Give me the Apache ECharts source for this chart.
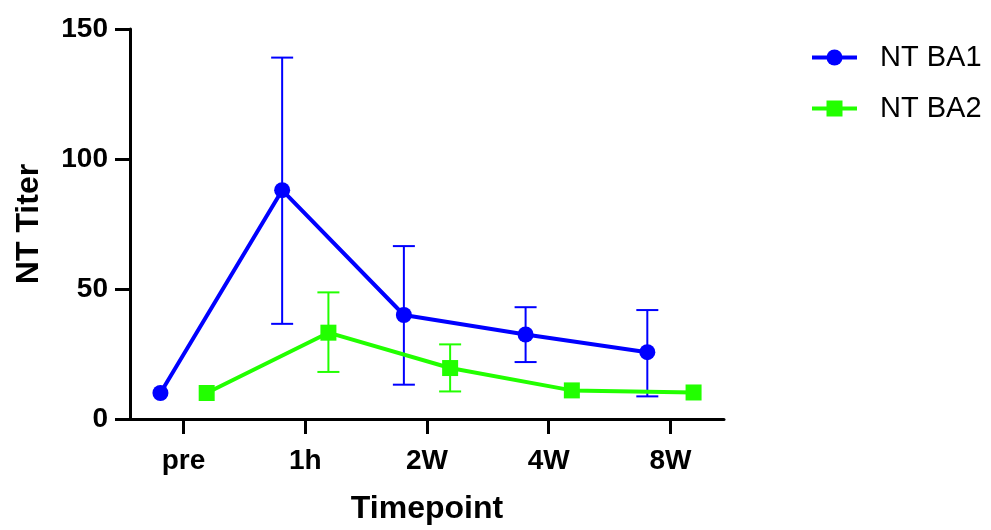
<!DOCTYPE html>
<html>
<head>
<meta charset="utf-8">
<script src="https://cdn.jsdelivr.net/npm/echarts@6/dist/echarts.min.js"></script>
<style>
  html, body { margin: 0; padding: 0; background: #fff; }
  #chart { width: 991px; height: 530px; }
</style>
</head>
<body>
<div id="chart"></div>
<script>
// data
var categories = ['pre', '1h', '2W', '4W', '8W']
var yTicks = [0, 50, 100, 150]

var ba1Mean = [10, 88, 40, 32.5, 25.7]
var ba1High = [null, 139, 66.5, 43, 41.9]
var ba1Low = [null, 36.6, 13.2, 21.9, 8.7]

var ba2Mean = [10, 33.2, 19.6, 11, 10.2]
var ba2High = [null, 48.7, 28.7, null, null]
var ba2Low = [null, 18.1, 10.6, null, null]

var blue = '#0000ff'
var green = '#22ff00'
var font = 'Liberation Sans, Arial, Helvetica, sans-serif'
var offset = 0.19
var catIdx = categories.map(function (c, i) { return i })

function points (mean, shift) {
  return mean.map(function (v, i) { return [i + shift, v] })
}

function bars (high, low, shift) {
  var out = []
  high.forEach(function (h, i) {
    if (h != null) out.push([i + shift, low[i], h])
  })
  return out
}

function errorSeries (name, data, color) {
  return {
    name: name,
    type: 'custom',
    z: 1,
    silent: true,
    data: data,
    encode: { x: 0, y: [1, 2] },
    renderItem: function (params, api) {
      var lo = api.coord([api.value(0), api.value(1)])
      var hi = api.coord([api.value(0), api.value(2)])
      var w = 11
      var style = { stroke: color, lineWidth: 2 }
      return {
        type: 'group',
        children: [
          { type: 'line', shape: { x1: hi[0], y1: hi[1], x2: lo[0], y2: lo[1] }, style: style },
          { type: 'line', shape: { x1: hi[0] - w, y1: hi[1], x2: hi[0] + w, y2: hi[1] }, style: style },
          { type: 'line', shape: { x1: lo[0] - w, y1: lo[1], x2: lo[0] + w, y2: lo[1] }, style: style }
        ]
      }
    }
  }
}

var chart = echarts.init(document.getElementById('chart'))
chart.setOption({
  animation: false,
  textStyle: { fontFamily: font },
  grid: { left: 130, top: 29, right: 267, bottom: 105 },
  legend: {
    orient: 'vertical',
    left: 805,
    top: 38,
    itemWidth: 45,
    itemHeight: 20,
    itemGap: 22,
    data: ['NT BA1', 'NT BA2'],
    lineStyle: { width: 4 },
    textStyle: { fontSize: 29, color: '#000', fontFamily: font, padding: [0, 0, 0, 18] }
  },
  xAxis: {
    type: 'value',
    min: -0.44,
    max: 4.44,
    name: 'Timepoint',
    nameLocation: 'middle',
    nameGap: 74,
    nameTextStyle: { fontSize: 32, fontWeight: 'bold', color: '#000' },
    axisLine: { show: true, onZero: false, lineStyle: { color: '#000', width: 3 } },
    axisTick: { show: true, customValues: catIdx, length: 15, lineStyle: { width: 3 } },
    axisLabel: {
      customValues: catIdx,
      fontSize: 28,
      fontWeight: 'bold',
      color: '#000',
      margin: 28,
      formatter: function (v) { return categories[Math.round(v)] }
    },
    splitLine: { show: false }
  },
  yAxis: {
    type: 'value',
    min: yTicks[0],
    max: yTicks[yTicks.length - 1],
    interval: 50,
    name: 'NT Titer',
    nameLocation: 'middle',
    nameGap: 85,
    nameTextStyle: { fontSize: 32, fontWeight: 'bold', color: '#000' },
    axisLine: { show: true, onZero: false, lineStyle: { color: '#000', width: 3 } },
    axisTick: { show: true, length: 15, lineStyle: { width: 3 } },
    axisLabel: { fontSize: 28, fontWeight: 'bold', color: '#000', margin: 22 },
    splitLine: { show: false }
  },
  series: [
    errorSeries('BA1 error', bars(ba1High, ba1Low, -offset), blue),
    errorSeries('BA2 error', bars(ba2High, ba2Low, offset), green),
    {
      name: 'NT BA1',
      type: 'line',
      z: 3,
      data: points(ba1Mean, -offset),
      symbol: 'circle',
      symbolSize: 16,
      itemStyle: { color: blue },
      lineStyle: { color: blue, width: 4 }
    },
    {
      name: 'NT BA2',
      type: 'line',
      z: 3,
      data: points(ba2Mean, offset),
      symbol: 'rect',
      symbolSize: 16,
      itemStyle: { color: green },
      lineStyle: { color: green, width: 4 }
    }
  ]
})
</script>
</body>
</html>
